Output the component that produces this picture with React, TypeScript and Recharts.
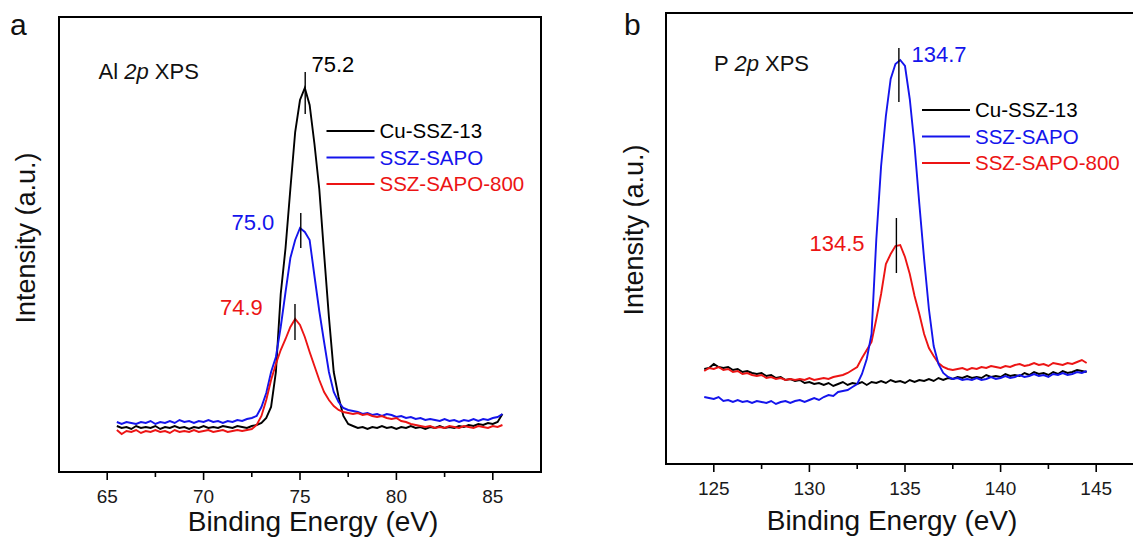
import React from 'react';
import { LineChart, Line, XAxis, YAxis, ReferenceArea, ReferenceLine } from 'recharts';

const FONT = '"Liberation Sans", Arial, Helvetica, sans-serif';
const BLACK = '#000000';
const BLUE = '#1414ec';
const RED = '#ec1414';

// ---- panel a: Al 2p ----
const energyA = [
    65.5, 65.75, 66, 66.25, 66.5, 66.75, 67, 67.25, 67.5, 67.75,
    68, 68.25, 68.5, 68.75, 69, 69.25, 69.5, 69.75, 70, 70.25,
    70.5, 70.75, 71, 71.25, 71.5, 71.75, 72, 72.25, 72.5, 72.75,
    73, 73.25, 73.5, 73.75, 74, 74.25, 74.5, 74.75, 75, 75.25,
    75.5, 75.75, 76, 76.25, 76.5, 76.75, 77, 77.25, 77.5, 77.75,
    78, 78.25, 78.5, 78.75, 79, 79.25, 79.5, 79.75, 80, 80.25,
    80.5, 80.75, 81, 81.25, 81.5, 81.75, 82, 82.25, 82.5, 82.75,
    83, 83.25, 83.5, 83.75, 84, 84.25, 84.5, 84.75, 85, 85.25,
    85.5,
];
const cuSszA = [
    46, 44, 45, 43, 46, 44, 45, 44, 46, 43,
    45, 44, 46, 44, 45, 43, 45, 44, 46, 44,
    45, 44, 46, 45, 44, 46, 45, 44, 46, 47,
    49, 54, 65, 100, 178, 224, 283, 340, 372, 384,
    367, 328, 283, 218, 155, 100, 75, 56, 48, 46,
    44, 45, 43, 45, 44, 46, 44, 45, 43, 45,
    44, 46, 44, 45, 43, 45, 44, 46, 44, 45,
    44, 46, 45, 47, 46, 48, 47, 49, 48, 50,
    58,
];
const sszSapoA = [
    50, 48, 50, 49, 48, 50, 49, 51, 48, 50,
    49, 51, 49, 52, 50, 51, 49, 51, 50, 52,
    50, 51, 49, 51, 50, 52, 51, 53, 54, 56,
    65, 79, 100, 115, 145, 180, 214, 232, 244, 240,
    232, 196, 161, 130, 100, 80, 70, 64, 62, 61,
    60, 58, 59, 57, 58, 56, 58, 57, 55, 56,
    54, 55, 53, 54, 52, 53, 52, 51, 53, 51,
    52, 50, 52, 51, 53, 51, 53, 52, 54, 55,
    58,
];
const sszSapo800A = [
    42, 38, 41, 40, 42, 39, 41, 40, 42, 40,
    41, 39, 42, 40, 41, 40, 42, 40, 41, 42,
    40, 41, 42, 40, 41, 42, 41, 42, 43, 47,
    56, 72, 92, 108, 122, 133, 145, 153, 147, 135,
    120, 106, 92, 80, 72, 66, 62, 60, 59, 58,
    59, 57, 58, 56, 55, 56, 54, 53, 54, 51,
    50, 48, 47, 46, 45, 46, 44, 45, 44, 46,
    45, 44, 46, 45, 44, 46, 45, 44, 46, 45,
    47,
];

// ---- panel b: P 2p ----
const energyB = [
    124.5, 124.75, 125, 125.25, 125.5, 125.75, 126, 126.25, 126.5, 126.75,
    127, 127.25, 127.5, 127.75, 128, 128.25, 128.5, 128.75, 129, 129.25,
    129.5, 129.75, 130, 130.25, 130.5, 130.75, 131, 131.25, 131.5, 131.75,
    132, 132.25, 132.5, 132.75, 133, 133.25, 133.5, 133.75, 134, 134.25,
    134.5, 134.75, 135, 135.25, 135.5, 135.75, 136, 136.25, 136.5, 136.75,
    137, 137.25, 137.5, 137.75, 138, 138.25, 138.5, 138.75, 139, 139.25,
    139.5, 139.75, 140, 140.25, 140.5, 140.75, 141, 141.25, 141.5, 141.75,
    142, 142.25, 142.5, 142.75, 143, 143.25, 143.5, 143.75, 144, 144.25,
    144.5,
];
const cuSszB = [
    95, 96, 100, 97, 96, 97, 94, 95, 92, 93,
    91, 90, 91, 88, 89, 86, 87, 84, 85, 83,
    84, 81, 82, 80, 81, 79, 81, 78, 80, 82,
    79, 81, 80, 82, 79, 82, 81, 83, 81, 84,
    82, 83, 81, 84, 82, 84, 83, 85, 83, 86,
    84, 86, 85, 87, 86, 88, 86, 87, 86, 89,
    87, 88, 87, 90, 88, 89, 88, 91, 89, 92,
    90, 91, 89, 92, 90, 93, 91, 92, 94, 93,
    92,
];
const sszSapoB = [
    67, 66, 65, 67, 63, 64, 62, 64, 62, 63,
    61, 63, 62, 61, 63, 60, 62, 63, 61, 63,
    64, 62, 64, 66, 64, 67, 69, 68, 72, 73,
    74, 77, 80, 90, 105, 130, 225, 298, 348, 385,
    400, 404, 398, 365, 318, 260, 205, 155, 118, 100,
    91, 87, 85, 86, 84, 85, 84, 86, 84, 85,
    87, 85, 86, 88, 86, 87, 89, 87, 88, 90,
    88, 89, 87, 90, 89, 91, 89, 90, 92, 91,
    93,
];
const sszSapo800B = [
    93, 96, 95, 97, 94, 95, 92, 93, 90, 91,
    89, 88, 89, 86, 87, 85, 86, 84, 85, 84,
    85, 84, 86, 84, 85, 86, 85, 87, 88, 89,
    91, 94, 97, 106, 114, 122, 145, 170, 200, 210,
    218, 219, 207, 190, 168, 150, 130, 116, 108, 101,
    97, 95, 94, 95, 96, 94, 96, 95, 97, 96,
    98, 97, 96, 98, 97, 99, 100, 98, 99, 101,
    99, 100, 98, 101, 100, 99, 101, 100, 102, 104,
    101,
];

const ticksA = [65, 67.5, 70, 72.5, 75, 77.5, 80, 82.5, 85];
const ticksB = [125, 127.5, 130, 132.5, 135, 137.5, 140, 142.5, 145];

const seriesNames = ['Cu-SSZ-13', 'SSZ-SAPO', 'SSZ-SAPO-800'];
const seriesKeys = ['cu', 'sapo', 'sapo800'];
const seriesColors = [BLACK, BLUE, RED];

// peak markers: energy, low/high intensity of the small vertical bar
const peakMarksA = [
    { x: 75.27, y1: 358, y2: 400 },
    { x: 75.04, y1: 224, y2: 259 },
    { x: 74.74, y1: 132, y2: 168 },
];
const peakMarksB = [
    { x: 134.68, y1: 362, y2: 416 },
    { x: 134.55, y1: 191, y2: 246 },
];

const rowsA = energyA.map((e, i) => ({ e, cu: cuSszA[i], sapo: sszSapoA[i], sapo800: sszSapo800A[i] }));
const rowsB = energyB.map((e, i) => ({ e, cu: cuSszB[i], sapo: sszSapoB[i], sapo800: sszSapo800B[i] }));

const EnergyTick = (props: any) => {
    const { x, y, payload } = props;
    const major = payload.value % 5 === 0;
    return (
        <g>
            <line x1={x} x2={x} y1={y} y2={y + (major ? 8 : 5)} stroke="#000" strokeWidth={1.6} />
            {major && (
                <text x={x} y={y + 31} textAnchor="middle" fontSize={19} fontFamily={FONT} fill="#1a1a1a">
                    {payload.value}
                </text>
            )}
        </g>
    );
};

interface PanelProps {
    rows: any[];
    domain: [number, number];
    yMax: number;
    ticks: number[];
    marks: { x: number; y1: number; y2: number }[];
    width: number;
    margin: { top: number; right: number; bottom: number; left: number };
    keys: string[];
}

const XpsPanel: React.FC<PanelProps> = ({ rows, domain, yMax, ticks, marks, width, margin, keys }) => (
    <LineChart width={width} height={540} data={rows} margin={margin}>
        <XAxis
            dataKey="e"
            type="number"
            domain={domain}
            ticks={ticks}
            interval={0}
            height={30}
            tickLine={false}
            tickSize={0}
            tickMargin={0}
            allowDataOverflow
            axisLine={{ stroke: '#000', strokeWidth: 2 }}
            tick={(p: any) => <EnergyTick {...p} />}
        />
        <YAxis hide type="number" domain={[0, yMax]} allowDataOverflow />
        <ReferenceArea x1={domain[0]} x2={domain[1]} y1={0} y2={yMax} fill="none" fillOpacity={0} stroke="#000" strokeWidth={2} />
        {keys.map((k) => {
            const idx = seriesKeys.indexOf(k);
            return (
                <Line
                    key={k}
                    type="linear"
                    dataKey={k}
                    stroke={seriesColors[idx]}
                    strokeWidth={1.9}
                    dot={false}
                    isAnimationActive={false}
                />
            );
        })}
        {marks.map((m, i) => (
            <ReferenceLine
                key={i}
                segment={[{ x: m.x, y: m.y1 }, { x: m.x, y: m.y2 }]}
                stroke="#000"
                strokeWidth={1.4}
            />
        ))}
    </LineChart>
);

const Legend: React.FC<{ x: number; y: number }> = ({ x, y }) => (
    <g>
        {seriesNames.map((name, i) => (
            <g key={name}>
                <line x1={x} x2={x + 48} y1={y + i * 26.5} y2={y + i * 26.5} stroke={seriesColors[i]} strokeWidth={2.2} />
                <text x={x + 53} y={y + i * 26.5 + 7.3} fontSize={20.5} fill={seriesColors[i]} fontFamily={FONT}>
                    {name}
                </text>
            </g>
        ))}
    </g>
);

export default function App() {
    return (
        <div
            style={{
                position: 'absolute',
                left: 0,
                top: 0,
                width: 1133,
                height: 540,
                overflow: 'hidden',
                background: '#fff',
                fontFamily: FONT,
            }}
        >
            <div style={{ position: 'absolute', left: 0, top: 0 }}>
                <XpsPanel
                    rows={rowsA}
                    domain={[62.5, 87.5]}
                    yMax={455}
                    ticks={ticksA}
                    marks={peakMarksA}
                    width={560}
                    margin={{ top: 17, right: 19, bottom: 38, left: 59 }}
                    keys={['cu', 'sapo', 'sapo800']}
                />
            </div>
            <div style={{ position: 'absolute', left: 580, top: 0 }}>
                <XpsPanel
                    rows={rowsB}
                    domain={[122.5, 147.5]}
                    yMax={451}
                    ticks={ticksB}
                    marks={peakMarksB}
                    width={600}
                    margin={{ top: 13, right: 36, bottom: 46, left: 86 }}
                    keys={['cu', 'sapo800', 'sapo']}
                />
            </div>
            <svg
                width={1133}
                height={540}
                style={{ position: 'absolute', left: 0, top: 0, pointerEvents: 'none' }}
                fontFamily={FONT}
            >
                {/* panel letters */}
                <text x={10} y={35} fontSize={30} fill="#111">a</text>
                <text x={624} y={35} fontSize={30} fill="#111">b</text>

                {/* axis titles */}
                <text x={313} y={531} fontSize={28} textAnchor="middle" fill="#111">Binding Energy (eV)</text>
                <text x={892} y={530} fontSize={28} textAnchor="middle" fill="#111">Binding Energy (eV)</text>
                <text transform="translate(35,238) rotate(-90)" fontSize={27} textAnchor="middle" fill="#111">Intensity (a.u.)</text>
                <text transform="translate(643,230) rotate(-90)" fontSize={27} textAnchor="middle" fill="#111">Intensity (a.u.)</text>

                {/* panel captions */}
                <text x={98.5} y={79} fontSize={22} fill="#111">
                    Al <tspan fontStyle="italic">2p</tspan> XPS
                </text>
                <text x={714} y={71} fontSize={22} fill="#111">
                    P <tspan fontStyle="italic">2p</tspan> XPS
                </text>

                {/* peak positions */}
                <text x={311.5} y={72} fontSize={22} fill={BLACK}>75.2</text>
                <text x={231.5} y={230} fontSize={22} fill={BLUE}>75.0</text>
                <text x={220} y={315} fontSize={22} fill={RED}>74.9</text>
                <text x={911.5} y={62} fontSize={22} fill={BLUE}>134.7</text>
                <text x={809.5} y={250.5} fontSize={22} fill={RED}>134.5</text>

                <Legend x={326.5} y={131} />
                <Legend x={922} y={110} />
            </svg>
        </div>
    );
}
